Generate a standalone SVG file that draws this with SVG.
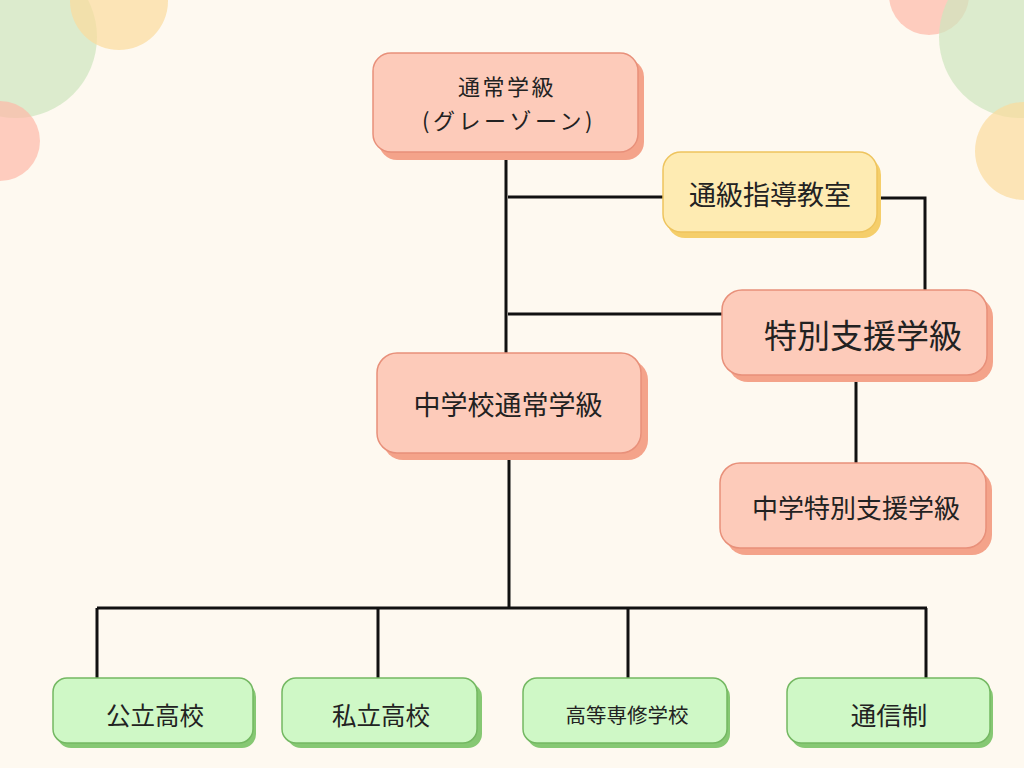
<svg xmlns="http://www.w3.org/2000/svg" width="1024" height="768" viewBox="0 0 1024 768">
<style>
.t{font-family:"Noto Sans CJK JP","Noto Sans",sans-serif;fill:#222;text-anchor:middle;dominant-baseline:central}
.pk{fill:#FDCBBA;stroke:#E8907A;stroke-width:1.5}
.pks{fill:#F4A38A}
.yl{fill:#FEEBB2;stroke:#EEC45E;stroke-width:1.5}
.yls{fill:#F5CE6A}
.gr{fill:#CFF8C6;stroke:#74B862;stroke-width:1.5}
.grs{fill:#86C873}
.c{stroke:#111;stroke-width:3;fill:none}
</style>
<rect width="1024" height="768" fill="#FEF9F0"/>
<g id="bg">
<circle cx="16" cy="37" r="81" fill="#CDE6BE" opacity="0.7"/>
<circle cx="119" cy="1" r="49" fill="#FBDC9C" opacity="0.7"/>
<circle cx="0" cy="141" r="40" fill="#FDB9A8" opacity="0.7"/>
<circle cx="929" cy="-5" r="40" fill="#FDB9A8" opacity="0.7"/>
<circle cx="1020" cy="37" r="81" fill="#CDE6BE" opacity="0.7"/>
<circle cx="1024" cy="151" r="49" fill="#FBDC9C" opacity="0.7"/>
</g>
<g id="connectors">
<path class="c" d="M506 155 V353"/>
<path class="c" d="M508 197 H664"/>
<path class="c" d="M879 198 H925 V291"/>
<path class="c" d="M508 314 H723"/>
<path class="c" d="M856 376 V463"/>
<path class="c" d="M509 458 V608"/>
<path class="c" d="M97 608 H927"/>
<path class="c" d="M97 608 V679 M378 608 V679 M628 608 V679 M926 608 V679"/>
</g>
<g id="n1">
<rect class="pks" x="379" y="59" width="265" height="101" rx="18"/>
<rect class="pk" x="373" y="53" width="265" height="99" rx="18"/>
<text class="t" x="507" y="85" font-size="22" letter-spacing="2.5">通常学級</text>
<text class="t" x="509" y="119" font-size="22" letter-spacing="3.5">(グレーゾーン)</text>
</g>
<g id="n2">
<rect class="yls" x="667" y="157" width="214" height="81" rx="18"/>
<rect class="yl" x="663" y="152" width="214" height="80" rx="18"/>
<text class="t" x="770" y="193" font-size="27">通級指導教室</text>
</g>
<g id="n3">
<rect class="pks" x="728" y="297" width="265" height="85" rx="20"/>
<rect class="pk" x="722" y="290" width="265" height="85" rx="20"/>
<text class="t" x="863" y="334" font-size="33">特別支援学級</text>
</g>
<g id="n4">
<rect class="pks" x="383" y="360" width="265" height="100" rx="20"/>
<rect class="pk" x="377" y="353" width="264" height="100" rx="20"/>
<text class="t" x="508" y="403" font-size="27">中学校通常学級</text>
</g>
<g id="n5">
<rect class="pks" x="726" y="470" width="266" height="85" rx="20"/>
<rect class="pk" x="720" y="463" width="266" height="85" rx="20"/>
<text class="t" x="856" y="506" font-size="26">中学特別支援学級</text>
</g>
<g id="n6">
<rect class="grs" x="57" y="683" width="199" height="65" rx="14"/>
<rect class="gr" x="53" y="678" width="200" height="65" rx="14"/>
<text class="t" x="155" y="714" font-size="24.5">公立高校</text>
</g>
<g id="n7">
<rect class="grs" x="287" y="683" width="195" height="65" rx="14"/>
<rect class="gr" x="282" y="678" width="195" height="65" rx="14"/>
<text class="t" x="381" y="714" font-size="24.5">私立高校</text>
</g>
<g id="n8">
<rect class="grs" x="527" y="683" width="203" height="65" rx="14"/>
<rect class="gr" x="523" y="678" width="204" height="65" rx="14"/>
<text class="t" x="627" y="714" font-size="20.5">高等専修学校</text>
</g>
<g id="n9">
<rect class="grs" x="791" y="683" width="202" height="65" rx="14"/>
<rect class="gr" x="787" y="678" width="203" height="65" rx="14"/>
<text class="t" x="889" y="713" font-size="25.5">通信制</text>
</g>
</svg>
